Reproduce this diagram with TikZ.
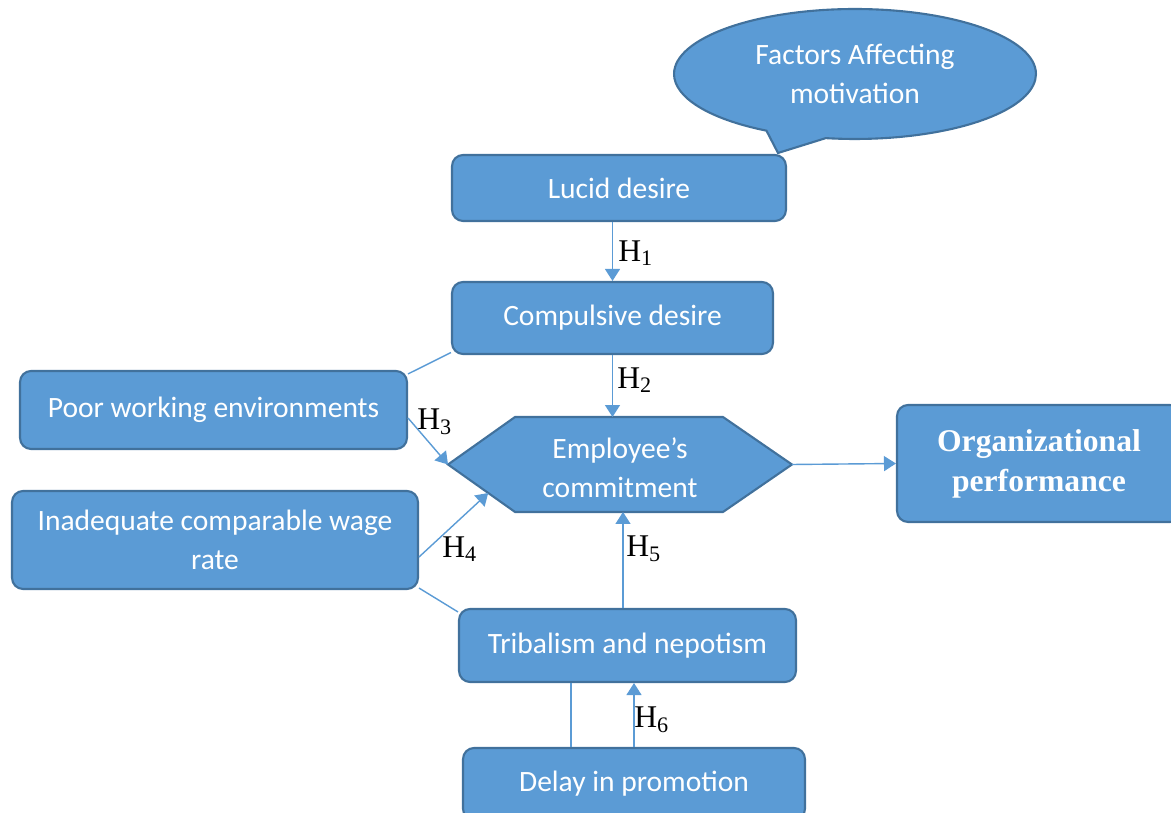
\documentclass[tikz,border=0pt]{standalone}
\usepackage{fontspec}
\setmainfont{Carlito}
\newfontfamily\hfont{Liberation Serif}
\usetikzlibrary{arrows.meta,shapes.callouts}
\definecolor{boxfill}{HTML}{5B9BD5}
\definecolor{boxline}{HTML}{41719C}
\begin{document}
\begin{tikzpicture}[x=0.02cm,y=-0.02cm,
  box/.style={draw=boxline,fill=boxfill,line width=1.2pt,rounded corners=0.22cm,
    text=white,font=\fontsize{16.8}{22.2}\selectfont,align=center,inner sep=0pt},
  link/.style={draw=boxfill,line width=0.8pt},
  arr/.style={link,-{Triangle[length=0.24cm,width=0.3cm]}},
  hlab/.style={font=\hfont\fontsize{18}{20}\selectfont,inner sep=0pt,anchor=west}]
\useasboundingbox (0,0) rectangle (1171,813);
% callout
\node[draw=boxline,fill=boxfill,line width=1.2pt,ellipse callout,callout absolute pointer={(778,153)},
  callout pointer arc=20,minimum width=7.24cm,minimum height=2.6cm,inner sep=0pt,
  text=white,font=\fontsize{16.8}{22.2}\selectfont,align=center] (fm) at (855,74) {Factors Affecting\\motivation};
% boxes
\node[box,minimum width=6.68cm,minimum height=1.32cm] (ld) at (619,188) {Lucid desire};
\node[box,minimum width=6.42cm,minimum height=1.44cm] (cd) at (612.5,318) {Compulsive desire};
\node[box,minimum width=7.74cm,minimum height=1.56cm] (pw) at (213.5,410) {Poor working environments};
\node[box,minimum width=8.12cm,minimum height=1.96cm] (iq) at (215,540) {Inadequate comparable wage\\rate};
\node[box,minimum width=6.74cm,minimum height=1.46cm] (tn) at (627.5,645.5) {Tribalism and nepotism};
\node[box,minimum width=6.84cm,minimum height=1.44cm] (dp) at (634,784) {Delay in promotion};
\node[box,minimum width=5.68cm,minimum height=2.34cm,font=\hfont\bfseries\fontsize{18}{22.7}\selectfont] (op) at (1039,463.5) {Organizational\\performance};
% hexagon
\node[minimum width=6.88cm,minimum height=1.9cm,inner sep=0pt,outer sep=0pt] (emp) at (620,464.5) {};
\draw[draw=boxline,fill=boxfill,line width=1.2pt] (emp.west)
  -- coordinate[pos=0.6] (h4end) ([xshift=1.34cm]emp.south west)
  -- ([xshift=-1.38cm]emp.south east) -- (emp.east)
  -- ([xshift=-1.38cm]emp.north east) -- ([xshift=1.34cm]emp.north west) -- cycle;
\node[text=white,font=\fontsize{16.8}{22.2}\selectfont,align=center] at ([yshift=-0.07cm]emp.center) {Employee's\\commitment};
% connectors
\coordinate (dpl) at ([xshift=-1.26cm]dp.north);
\coordinate (tnh) at ([xshift=-0.09cm]tn.north);
\draw[arr] (cd.north |- ld.south) -- (cd.north);
\draw[arr] (cd.south) -- (cd.south |- emp.north);
\draw[link] ([yshift=0.05cm]cd.south west) -- ([yshift=-0.08cm]pw.north east);
\draw[arr] ([yshift=-0.16cm]pw.east) -- (emp.west);
\draw[arr] ([yshift=-0.34cm]iq.east) -- (h4end);
\draw[link] ([yshift=0.04cm]iq.south east) -- ([yshift=-0.08cm]tn.north west);
\draw[arr] (tnh) -- (tnh |- emp.south);
\draw[link] (dpl) -- (dpl |- tn.south);
\draw[arr] (dp.north) -- (dp.north |- tn.south);
\draw[arr] (emp.east) -- (op.west);
% labels
\node[hlab] (h1) at (618,253) {H\textsubscript{1}};
\node[hlab] (h2) at (617,380) {H\textsubscript{2}};
\node[hlab] (h3) at (417,422) {H\textsubscript{3}};
\node[hlab] (h4) at (442,549) {H\textsubscript{4}};
\node[hlab] (h5) at (626,549) {H\textsubscript{5}};
\node[hlab] (h6) at (634,720) {H\textsubscript{6}};
\end{tikzpicture}
\end{document}
